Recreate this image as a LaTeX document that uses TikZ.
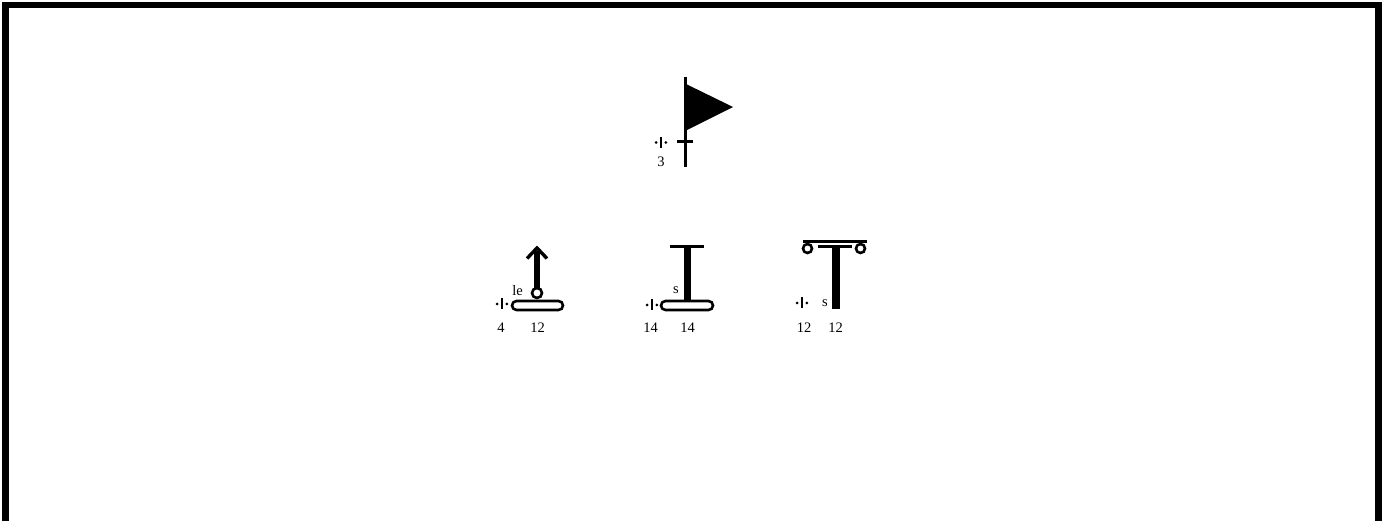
\documentclass[tikz,border=0pt]{standalone}
\usepackage{fontspec}
\setmainfont{Liberation Serif}
\begin{document}
\begin{tikzpicture}[x=1pt,y=-1pt,
  lbl/.style={inner sep=0pt, font=\fontsize{14.5}{14.5}\selectfont},
  stroke/.style={line width=3pt},
  heavy/.style={line width=7pt},
  ring/.style={circle, draw, line width=2.6pt, fill=white, inner sep=0pt, minimum size=10pt},
  plate/.style={draw, line width=2.6pt, rounded corners=4.5pt, fill=white}]
\useasboundingbox (0,0) rectangle (1382,521);
% frame
\draw[line width=6.5pt] (5.5,521) -- (5.5,4.8) -- (1378.5,4.8) -- (1378.5,521);
% dot-bar mark
\newcommand{\dotbar}[2]{%
  \draw[line width=1.6pt] (#1,#2-5.5) -- (#1,#2+5.5);
  \fill (#1-4.8,#2) circle (1.5pt) (#1+4.8,#2) circle (1.5pt);}
% ---- flag
\coordinate (ptop) at (685,77);
\coordinate (pbot) at (685,167);
\draw[stroke] (ptop) -- (pbot);
\fill (685,83.5) -- (733,107) -- (685,131) -- cycle;
\draw[stroke] (677,141.5) -- (693,141.5);
\dotbar{661}{142.5}
\node[lbl] (f3) at (661,161.5) {3};
% ---- arrow symbol
\draw[plate] (512,301) rectangle (563,310);
\draw[line width=6pt] (537,290) -- (537,251);
\draw[line width=3.4pt] (527,258.5) -- (537,248) -- (547,258.5);
\node[ring] (ac) at (537,293) {};
\dotbar{502}{304}
\node[lbl] (le) at (517.5,290.5) {le};
\node[lbl] (a4) at (501,328) {4};
\node[lbl] (a12) at (537.5,328) {12};
% ---- I symbol
\draw[heavy] (687,247) -- (687,301);
\draw[stroke] (670,247) -- (704,247);
\draw[plate] (661,301) rectangle (713,310);
\dotbar{652}{305}
\node[lbl] (is) at (676,290.5) {s};
\node[lbl] (i14a) at (650.5,328) {14};
\node[lbl] (i14b) at (687.5,328) {14};
% ---- T symbol
\draw[line width=3pt] (803,242) -- (867,242);
\draw[line width=3.2pt] (818,246.5) -- (852,246.5);
\draw[line width=8pt] (835.5,246) -- (835.5,309.5);
\node[ring, minimum size=9pt] (tc1) at (807.5,248.5) {};
\node[ring, minimum size=9pt] (tc2) at (860.5,248.5) {};
\dotbar{802}{303}
\node[lbl] (ts) at (825,303) {s};
\node[lbl] (t12a) at (804,328) {12};
\node[lbl] (t12b) at (835.5,328) {12};
\end{tikzpicture}
\end{document}
